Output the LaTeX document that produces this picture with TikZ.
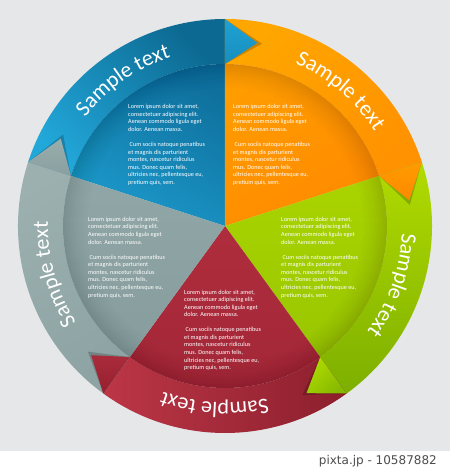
\documentclass[tikz,border=0pt]{standalone}
\usepackage{fontspec}
\setmainfont{Carlito}
\newfontfamily\footfont{DejaVu Sans}
\usetikzlibrary{decorations.text}
\definecolor{bgc}{HTML}{E6E7E9}
\definecolor{footc}{HTML}{4D4D4D}
\definecolor{blueRingA}{HTML}{0C6991}
\definecolor{blueRingB}{HTML}{22A7D9}
\definecolor{blueDiskA}{HTML}{0F709D}
\definecolor{blueDiskB}{HTML}{1C9ACC}
\definecolor{orRingA}{HTML}{FFA600}
\definecolor{orRingB}{HTML}{FF9200}
\definecolor{orDiskA}{HTML}{FF9C00}
\definecolor{orDiskB}{HTML}{FF8A00}
\definecolor{grRingA}{HTML}{B2DB00}
\definecolor{grRingB}{HTML}{7DAF00}
\definecolor{grDiskA}{HTML}{AAD400}
\definecolor{grDiskB}{HTML}{98C600}
\definecolor{rdRingA}{HTML}{BC3646}
\definecolor{rdRingB}{HTML}{8C1F2D}
\definecolor{rdDiskA}{HTML}{AF2D3D}
\definecolor{rdDiskB}{HTML}{A22737}
\definecolor{gyRingA}{HTML}{9CB0B0}
\definecolor{gyRingB}{HTML}{8EA3A3}
\definecolor{gyDiskA}{HTML}{91A6A6}
\definecolor{gyDiskB}{HTML}{879C9C}
\definecolor{blueTipA}{HTML}{1FA2D3}
\definecolor{blueTipB}{HTML}{178EBE}
\definecolor{orTipA}{HTML}{FF9C00}
\definecolor{orTipB}{HTML}{FF8800}
\definecolor{grTipA}{HTML}{AEDA00}
\definecolor{grTipB}{HTML}{86B900}
\definecolor{rdTipA}{HTML}{AA2C3B}
\definecolor{rdTipB}{HTML}{951F2E}
\definecolor{gyTipA}{HTML}{99ADAD}
\definecolor{gyTipB}{HTML}{8A9F9F}
\tikzset{
  bodytext/.style={text=white, font=\fontsize{6.2}{7.56}\selectfont, align=left, anchor=north west, inner sep=0pt},
  ringtitle/.style={decorate, decoration={text along path, text align=center, text color=white, text={|\fontsize{22}{26}\selectfont|Sample text}}},
  tipshadow/.style={fill=black, opacity=0.2},
}
\newcommand{\loremblock}{Lorem ipsum dolor sit amet,\\consectetuer adipiscing elit.\\Aenean commodo ligula eget\\dolor. Aenean massa.\\[7.56pt]\hspace*{1.5pt}Cum sociis natoque penatibus\\et magnis dis parturient\\montes, nascetur ridiculus\\mus. Donec quam felis,\\ultricies nec, pellentesque eu,\\pretium quis, sem.}
% #1 a1, #2 a2, #3 ring top, #4 ring bottom, #5 ring angle, #6 disk top, #7 disk bottom, #8 disk angle
\newcommand{\drawsector}[8]{%
  \shade[top color=#3, bottom color=#4, shading angle=#5]
    (#1:207) arc[start angle=#1, end angle=#2, radius=207] -- (#2:162) arc[start angle=#2, end angle=#1, radius=162] -- cycle;
  \shade[top color=#6, bottom color=#7, shading angle=#8]
    (0,0) -- (#1:162) arc[start angle=#1, end angle=#2, radius=162] -- cycle;
}
% #1 boundary angle, #2 top color, #3 bottom color, #4 angle
\newcommand{\drawtip}[4]{%
  \fill[tipshadow] (#1:207) -- ({#1-11.5}:186) -- (#1:162) -- cycle;
  \shade[top color=#2, bottom color=#3, shading angle=#4] (#1:207) -- ({#1-10}:186) -- (#1:162) -- cycle;
}
\begin{document}
\begin{tikzpicture}[x=1pt,y=1pt]
\useasboundingbox (-225,-243) rectangle (225,226);
\fill[white] (-225,-243) rectangle (225,226);
\fill[bgc] (-225,-225) rectangle (225,226);
% sectors
\drawsector{162}{90}{blueRingA}{blueRingB}{-45}{blueDiskA}{blueDiskB}{-30}
\drawsector{90}{18}{orRingA}{orRingB}{45}{orDiskA}{orDiskB}{30}
\drawsector{18}{-54}{grRingA}{grRingB}{0}{grDiskA}{grDiskB}{0}
\drawsector{-54}{-126}{rdRingA}{rdRingB}{90}{rdDiskA}{rdDiskB}{0}
\drawsector{234}{162}{gyRingA}{gyRingB}{30}{gyDiskA}{gyDiskB}{0}
% darker band at the inner edge (soft)
\foreach \rr in {138,141,144,147,150,152,154,156,158,160}{
  \fill[black, opacity=0.013, even odd rule] (0,0) circle (162) (0,0) circle (\rr);
}
% folded tips
\drawtip{90}{blueTipA}{blueTipB}{0}
\drawtip{18}{orTipA}{orTipB}{0}
\drawtip{-54}{grTipA}{grTipB}{45}
\drawtip{-126}{rdTipA}{rdTipB}{0}
\drawtip{162}{gyTipA}{gyTipB}{0}
% body texts
\node[bodytext] (bluetext) at (-97,121.8) {\loremblock};
\node[bodytext] (orangetext) at (8,121.8) {\loremblock};
\node[bodytext] (graytext) at (-137,9.1) {\loremblock};
\node[bodytext] (greentext) at (56,9.1) {\loremblock};
\node[bodytext] (redtext) at (-41,-63.5) {\loremblock};
% ring titles
\path[ringtitle] (170:177) arc[start angle=170, end angle=80, radius=177];
\path[ringtitle] (94.5:177) arc[start angle=94.5, end angle=4.5, radius=177];
\path[ringtitle] (25.5:177) arc[start angle=25.5, end angle=-64.5, radius=177];
\path[ringtitle] (-48.4:177) arc[start angle=-48.4, end angle=-138.4, radius=177];
\path[ringtitle] (240.7:177) arc[start angle=240.7, end angle=150.7, radius=177];
% footer
\node[anchor=east, text=footc, font=\footfont\fontsize{12}{14}\selectfont, inner sep=0pt] (foot) at (212,-235) {pixta.jp - 10587882};
\end{tikzpicture}
\end{document}
